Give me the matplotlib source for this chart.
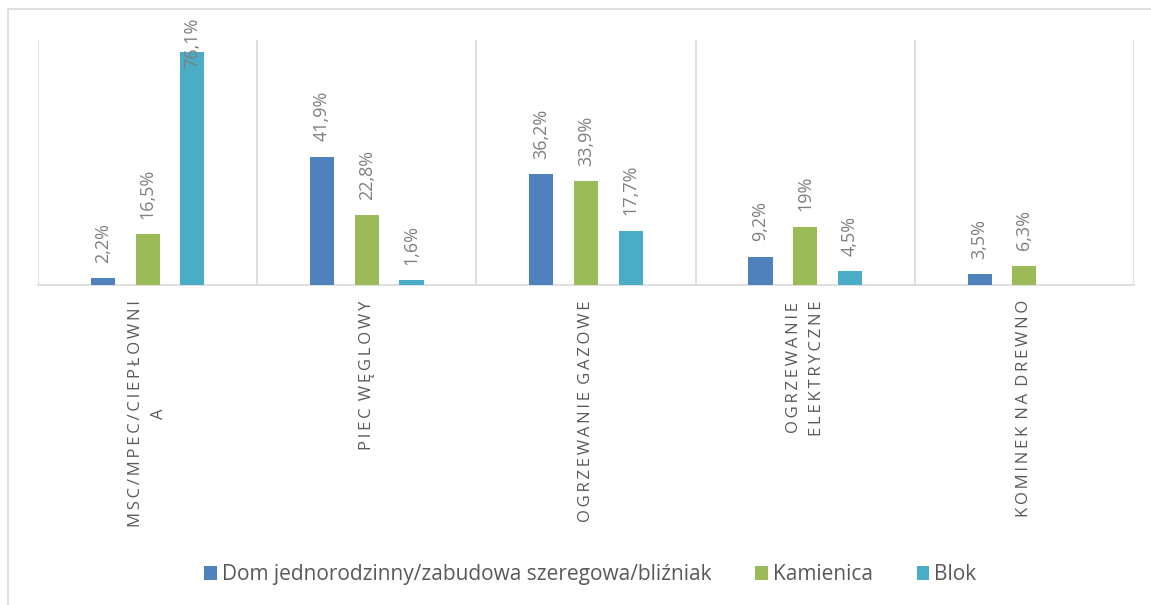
import matplotlib.pyplot as plt
from matplotlib.patches import Rectangle

# data
category_names = ["MSC/MPEC/CIEPŁOWNI\nA",
                  "PIEC WĘGLOWY",
                  "OGRZEWANIE GAZOWE",
                  "OGRZEWANIE\nELEKTRYCZNE",
                  "KOMINEK NA DREWNO"]
series_names = ["Dom jednorodzinny/zabudowa szeregowa/bliźniak", "Kamienica", "Blok"]
dom = [2.2, 41.9, 36.2, 9.2, 3.5]
kamienica = [16.5, 22.8, 33.9, 19.0, 6.3]
blok = [76.1, 1.6, 17.7, 4.5, None]
value_texts = [["2,2%", "41,9%", "36,2%", "9,2%", "3,5%"],
               ["16,5%", "22,8%", "33,9%", "19%", "6,3%"],
               ["76,1%", "1,6%", "17,7%", "4,5%", None]]
colors = ['#4f81bd', '#9bbb59', '#4bacc6']


def spaced(s):
    # imitate Excel's character spacing on the category axis
    lines = []
    for line in s.split('\n'):
        words = ['\u2009'.join(w) for w in line.split(' ')]
        lines.append(' \u2009'.join(words))
    return '\n'.join(lines)


plt.rcParams['font.family'] = ['Open Sans', 'DejaVu Sans']

fig = plt.figure(figsize=(11.51, 6.05), dpi=100)
ax = fig.add_axes([0.033, 0.529, 0.9522, 0.405])

# outer chart border
fig.patches.append(Rectangle((8 / 1151, -0.1), 1.2, 1 - 9 / 605 + 0.1,
                             transform=fig.transFigure, fill=False,
                             edgecolor='#d9d9d9', linewidth=1.2))

offsets = [-0.204, 0, 0.204]
width = 0.11
for i, (vals, col) in enumerate(zip([dom, kamienica, blok], colors)):
    xs = [c + offsets[i] for c, v in enumerate(vals) if v is not None]
    ys = [v for v in vals if v is not None]
    ax.bar(xs, ys, width=width, color=col, label=series_names[i], zorder=3)
    for x, v, t in zip(xs, ys, [t for t in value_texts[i] if t is not None]):
        ax.annotate(t, (x, min(v, 66)), xytext=(0, 11), textcoords='offset points',
                    rotation=90, ha='center', va='bottom', color='#7f7f7f', fontsize=13)

ax.set_xlim(-0.5, 4.5)
ax.set_ylim(0, 80)
ax.set_yticks([])
ax.set_xticks(range(5))
ax.set_xticklabels([spaced(c) for c in category_names], rotation=90, ha='center', va='top',
                   multialignment='center', linespacing=1.6,
                   color='#595959', fontsize=12)
ax.tick_params(axis='x', length=0, pad=11)
ax.set_xticks([k - 0.5 for k in range(6)], minor=True)
ax.tick_params(axis='x', which='minor', length=0)
ax.grid(True, axis='x', which='minor', color='#d9d9d9', linewidth=1.2, zorder=0)
for s in ['top', 'left', 'right']:
    ax.spines[s].set_visible(False)
ax.spines['bottom'].set_color('#d9d9d9')
ax.spines['bottom'].set_linewidth(1.2)

leg = fig.legend(loc='center', bbox_to_anchor=(0.513, 0.05), ncol=3, frameon=False,
                 handlelength=0.6, handleheight=0.6, handletextpad=0.25,
                 columnspacing=2.1, prop={'size': 15})
for t in leg.get_texts():
    t.set_color('#595959')

fig.savefig('out.png', dpi=100)
